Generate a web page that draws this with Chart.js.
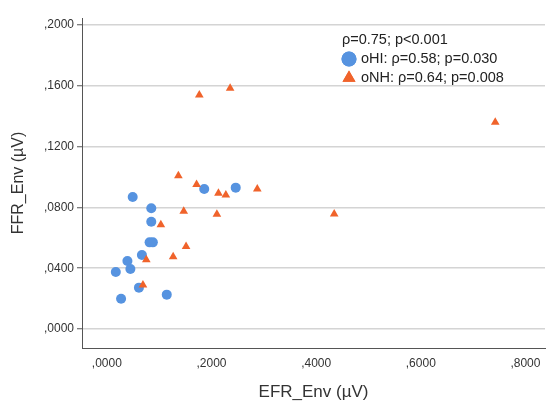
<!DOCTYPE html>
<html>
<head>
<meta charset="utf-8">
<script src="https://cdn.jsdelivr.net/npm/chart.js@4/dist/chart.umd.min.js"></script>
<style>
    html, body { margin: 0; padding: 0; background: #fff; }
    #wrap { width: 550px; height: 403px; }
</style>
</head>
<body>
<div id="wrap"><canvas id="scatterChart"></canvas></div>
<script>
// ============================================
// Data: EFR_Env vs FFR_Env (µV)
// ============================================
const hiEfr = [0.0494, 0.1861, 0.2463, 0.0849, 0.0849, 0.0817, 0.0879,
               0.0670, 0.0393, 0.0450, 0.0171, 0.0613, 0.0272, 0.1145];
const hiFfr = [0.0868, 0.0921, 0.0930, 0.0794, 0.0706, 0.0570, 0.0570,
               0.0487, 0.0447, 0.0395, 0.0375, 0.0272, 0.0199, 0.0226];

const nhEfr = [0.1367, 0.1715, 0.2133, 0.2274, 0.2875, 0.1469, 0.2103, 0.1032,
               0.1514, 0.1267, 0.0754, 0.0690, 0.1767, 0.2356, 0.7423, 0.4345];
const nhFfr = [0.1009, 0.0950, 0.0893, 0.0882, 0.0921, 0.0774, 0.0755, 0.0686,
               0.0542, 0.0476, 0.0456, 0.0290, 0.1540, 0.1584, 0.1360, 0.0757];

const xTicks = [0, 0.2, 0.4, 0.6, 0.8];
const yTicks = [0, 0.04, 0.08, 0.12, 0.16, 0.2];

const statsLines = [
    { marker: null, text: 'ρ=0.75; p<0.001' },
    { marker: 'circle', text: 'oHI: ρ=0.58; p=0.030' },
    { marker: 'triangle', text: 'oNH: ρ=0.64; p=0.008' }
];

const BLUE = '#5693e0';
const ORANGE = '#f0632b';

// ,2000 style labels
function commaLabel(v) {
    return v.toFixed(4).replace(/^0\./, ',');
}

function toPoints(xs, ys) {
    return xs.map((x, i) => ({ x: x, y: ys[i] }));
}

// ============================================
// Stats legend inside the plot
// ============================================
const statsLegend = {
    id: 'statsLegend',
    afterDatasetsDraw(chart) {
        const ctx = chart.ctx;
        const colors = { circle: BLUE, triangle: ORANGE };
        ctx.save();
        ctx.font = '14.5px "Liberation Sans", Arial, sans-serif';
        ctx.fillStyle = '#222';
        ctx.textBaseline = 'middle';
        statsLines.forEach((line, i) => {
            const y = 40 + i * 19;
            if (line.marker) {
                ctx.fillStyle = colors[line.marker];
                Chart.helpers.drawPoint(ctx, {
                    pointStyle: line.marker, radius: 7.5, borderWidth: 0, rotation: 0
                }, 349, y);
                ctx.fill();
                ctx.fillStyle = '#222';
            }
            ctx.fillText(line.text, line.marker ? 361 : 342, y);
        });
        ctx.restore();
    }
};

const ctx = document.getElementById('scatterChart').getContext('2d');
new Chart(ctx, {
    type: 'scatter',
    data: {
        datasets: [{
            label: 'oNH',
            data: toPoints(nhEfr, nhFfr),
            pointStyle: 'triangle',
            backgroundColor: ORANGE,
            borderWidth: 0,
            pointRadius: 5,
            pointHoverRadius: 5
        }, {
            label: 'oHI',
            data: toPoints(hiEfr, hiFfr),
            pointStyle: 'circle',
            backgroundColor: BLUE,
            borderWidth: 0,
            pointRadius: 5,
            pointHoverRadius: 5
        }]
    },
    options: {
        responsive: true,
        maintainAspectRatio: false,
        animation: false,
        layout: { padding: { top: 18, right: 2, left: 0, bottom: 0 } },
        plugins: {
            legend: { display: false },
            tooltip: { enabled: false }
        },
        scales: {
            x: {
                type: 'linear',
                min: -0.0475,
                max: 0.8374,
                afterBuildTicks: s => { s.ticks = xTicks.map(v => ({ value: v })); },
                afterFit: s => { s.height = 55; },
                grid: { drawOnChartArea: false, drawTicks: false },
                border: { color: '#555', width: 1 },
                ticks: {
                    callback: v => commaLabel(v),
                    color: '#333',
                    padding: 8,
                    maxRotation: 0,
                    font: { family: '"Liberation Sans", Arial, sans-serif', size: 12 }
                },
                title: {
                    display: true,
                    text: 'EFR_Env (µV)',
                    color: '#333',
                    padding: 0,
                    font: { family: '"Liberation Sans", Arial, sans-serif', size: 17 }
                }
            },
            y: {
                type: 'linear',
                min: -0.0125,
                max: 0.2046,
                afterBuildTicks: s => { s.ticks = yTicks.map(v => ({ value: v })); },
                afterFit: s => { s.width = 82; },
                grid: {
                    color: '#d4d4d4',
                    lineWidth: 1.5,
                    tickColor: '#555',
                    tickLength: 5,
                    tickWidth: 1
                },
                border: { color: '#555', width: 1 },
                ticks: {
                    callback: v => commaLabel(v),
                    color: '#333',
                    padding: 3,
                    font: { family: '"Liberation Sans", Arial, sans-serif', size: 12 }
                },
                title: {
                    display: true,
                    text: 'FFR_Env (µV)',
                    color: '#333',
                    padding: { top: 9, bottom: 0 },
                    font: { family: '"Liberation Sans", Arial, sans-serif', size: 16 }
                }
            }
        }
    },
    plugins: [statsLegend]
});
</script>
</body>
</html>
